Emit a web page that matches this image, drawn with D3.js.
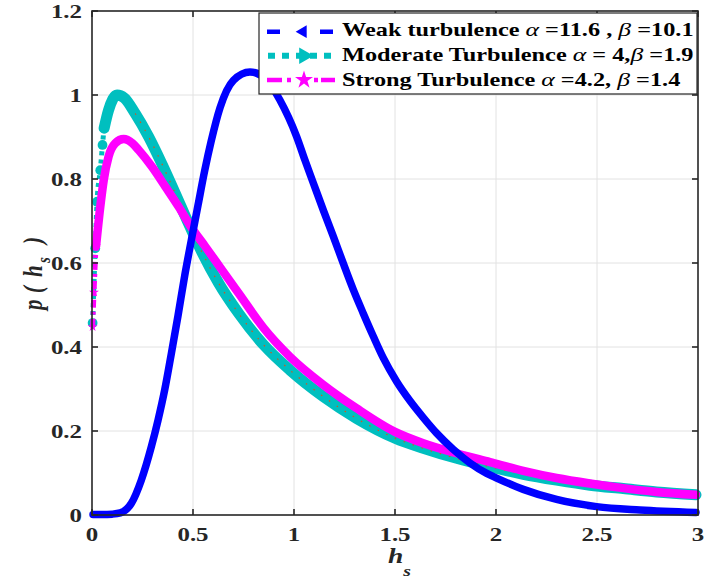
<!DOCTYPE html>
<html><head><meta charset="utf-8">
<script src="https://cdn.jsdelivr.net/npm/d3@7"></script>
<style>body{margin:0;background:#fff}svg{display:block}</style>
</head><body>
<svg id="c" width="704" height="584"></svg>
<script>
// ---- data ----
const xTicks = [0, 0.5, 1, 1.5, 2, 2.5, 3];
const xTickLabels = ["0", "0.5", "1", "1.5", "2", "2.5", "3"];
const yTicks = [0, 0.2, 0.4, 0.6, 0.8, 1, 1.2];
const yTickLabels = ["0", "0.2", "0.4", "0.6", "0.8", "1", "1.2"];

const weakX = [0.005,0.05,0.1,0.14,0.195,0.244,0.294,0.327,0.36,0.393,0.426,0.459,0.492,0.525,0.558,0.59,0.634,0.70,0.782,0.865,0.93,1.013,1.054,1.096,1.145,1.195,1.244,1.294,1.343,1.393,1.442,1.508,1.574,1.64,1.706,1.789,1.871,1.954,2.003,2.135,2.3,2.498,2.713,2.99];
const weakY = [0.001,0.001,0.002,0.005,0.028,0.083,0.163,0.226,0.298,0.385,0.475,0.57,0.655,0.738,0.82,0.89,0.97,1.035,1.055,1.036,0.988,0.901,0.845,0.79,0.726,0.663,0.599,0.536,0.48,0.425,0.374,0.318,0.272,0.232,0.195,0.156,0.124,0.099,0.088,0.061,0.037,0.02,0.012,0.006];

const modX = [0.003,0.016,0.025,0.041,0.052,0.06,0.082,0.124,0.16,0.214,0.28,0.347,0.413,0.478,0.545,0.627,0.726,0.85,0.98,1.145,1.31,1.5,1.64,1.805,1.97,2.135,2.3,2.465,2.63,2.795,2.99];
const modY = [0.457,0.635,0.746,0.821,0.881,0.921,0.964,1.0,0.993,0.956,0.901,0.835,0.765,0.694,0.625,0.552,0.48,0.405,0.345,0.282,0.23,0.183,0.159,0.135,0.115,0.097,0.083,0.071,0.063,0.055,0.048];

const strongX = [0.003,0.01,0.02,0.041,0.058,0.082,0.115,0.157,0.2,0.231,0.297,0.363,0.429,0.49,0.561,0.644,0.726,0.85,0.98,1.145,1.31,1.5,1.64,1.805,1.97,2.135,2.3,2.465,2.63,2.795,2.99];
const strongY = [0.448,0.53,0.64,0.734,0.797,0.853,0.885,0.895,0.885,0.869,0.829,0.782,0.734,0.686,0.639,0.583,0.528,0.445,0.377,0.31,0.254,0.198,0.171,0.147,0.126,0.105,0.088,0.075,0.064,0.055,0.048];

const seriesNames = ["Weak turbulence", "Moderate Turbulence", "Strong Turbulence"];
const alphaText = [" =11.6 , ", " = 4,", " =4.2, "];
const betaText = [" =10.1", " =1.9", " =1.4"];

// ---- drawing ----
const svg = d3.select("#c");
const L = 92, R = 698, T = 11, B = 515;
const SX = 1.31;   // horizontal stretch of the reference's text
const SXL = 1.35;  // legend text stretch
const x = d3.scaleLinear().domain([0, 3]).range([L, R]);
const y = d3.scaleLinear().domain([0, 1.2]).range([B, T]);
const serif = "Liberation Serif, Times New Roman, serif";
const ink = "#262626";

// grid
const g = svg.append("g");
g.selectAll(".gx").data(xTicks.slice(1, -1)).enter().append("line")
  .attr("x1", d => x(d)).attr("x2", d => x(d)).attr("y1", T).attr("y2", B)
  .attr("stroke", "#e2e2e2").attr("stroke-width", 1);
g.selectAll(".gy").data(yTicks.slice(1, -1)).enter().append("line")
  .attr("y1", d => y(d)).attr("y2", d => y(d)).attr("x1", L).attr("x2", R)
  .attr("stroke", "#e2e2e2").attr("stroke-width", 1);

// curves
const line = d3.line().x(d => x(d[0])).y(d => y(d[1])).curve(d3.curveMonotoneX);
svg.append("clipPath").attr("id", "clp").append("rect")
  .attr("x", L - 8).attr("y", T).attr("width", R - L + 16).attr("height", B - T + 8);
const plot = svg.append("g").attr("clip-path", "url(#clp)");

const series = [
  {xs: modX, ys: modY, color: "#00bfbf", w: 11, startN: 6, thinW: 5, dash: "4 4",
   sym: d3.symbolCircle, rot: 0, size: 75, orange: true},
  {xs: strongX, ys: strongY, color: "#ff00ff", w: 8.5, startN: 3, thinW: 5, dash: "8 4 3 4",
   sym: d3.symbolStar, rot: 0, size: 30},
  {xs: weakX, ys: weakY, color: "#0000ff", w: 7.5, startN: 0, thinW: 0, dash: null,
   sym: d3.symbolTriangle, rot: -90, size: 30}
];
series.forEach(s => {
  const pts = s.xs.map((v, i) => [v, s.ys[i]]);
  if (s.startN > 0) {
    const head = pts.slice(0, s.startN + 1);
    plot.append("path").attr("d", line(head)).attr("fill", "none")
      .attr("stroke", s.color).attr("stroke-width", s.thinW).attr("stroke-dasharray", s.dash);
    plot.selectAll(null).data(head.slice(0, s.startN)).enter().append("path")
      .attr("d", d3.symbol().type(s.sym).size(s.size))
      .attr("transform", d => `translate(${x(d[0])},${y(d[1])}) rotate(${s.rot})`)
      .attr("fill", s.color);
  }
  const body = pts.slice(Math.max(0, s.startN - 1));
  plot.append("path").attr("d", line(body)).attr("fill", "none")
    .attr("stroke", s.color).attr("stroke-width", s.w).attr("stroke-linejoin", "round").attr("stroke-linecap", "round");
  if (s.orange) {
    plot.append("path").attr("d", line(pts.slice(9))).attr("fill", "none")
      .attr("stroke", "#d95319").attr("stroke-width", 1.2).attr("stroke-dasharray", "1.5 8");
  }
});

// frame and ticks
const ax = svg.append("g").attr("stroke", ink).attr("stroke-width", 1.6);
ax.append("rect").attr("x", L).attr("y", T).attr("width", R - L).attr("height", B - T).attr("fill", "none");
xTicks.forEach(t => {
  ax.append("line").attr("x1", x(t)).attr("x2", x(t)).attr("y1", B).attr("y2", B - 6);
  ax.append("line").attr("x1", x(t)).attr("x2", x(t)).attr("y1", T).attr("y2", T + 6);
});
yTicks.forEach(t => {
  ax.append("line").attr("y1", y(t)).attr("y2", y(t)).attr("x1", L).attr("x2", L + 6);
  ax.append("line").attr("y1", y(t)).attr("y2", y(t)).attr("x1", R).attr("x2", R - 6);
});

// tick labels (stretched horizontally like the reference)
svg.selectAll(".xl").data(xTicks).enter().append("text")
  .attr("transform", d => `translate(${x(d)},541) scale(${SX},1)`).attr("text-anchor", "middle")
  .attr("font-family", serif).attr("font-weight", "bold").attr("font-size", 19).attr("fill", ink)
  .text((d, i) => xTickLabels[i]);
svg.selectAll(".yl").data(yTicks).enter().append("text")
  .attr("transform", d => `translate(82,${y(d) + 6.5}) scale(${SX},1)`).attr("text-anchor", "end")
  .attr("font-family", serif).attr("font-weight", "bold").attr("font-size", 19).attr("fill", ink)
  .text((d, i) => yTickLabels[i]);

// axis labels
const xl = svg.append("text").attr("transform", `translate(388,563) scale(${SX},1)`)
  .attr("font-family", serif).attr("font-weight", "bold").attr("font-style", "italic")
  .attr("font-size", 21).attr("fill", ink);
xl.append("tspan").text("h");
xl.append("tspan").attr("dy", 13).attr("font-size", 15).text("s");

const yl = svg.append("text").attr("transform", `translate(42,273) scale(${SX},1) rotate(-90)`)
  .attr("font-family", serif).attr("font-weight", "bold").attr("font-style", "italic")
  .attr("font-size", 21).attr("fill", ink);
yl.append("tspan").attr("x", -37).text("p");
yl.append("tspan").attr("x", -20).text("(");
yl.append("tspan").attr("x", -4).text("h");
yl.append("tspan").attr("x", 10).attr("dy", 6).attr("font-size", 15).text("s");
yl.append("tspan").attr("x", 29).attr("dy", -6).text(")");

// legend
const lg = svg.append("g");
lg.append("rect").attr("x", 259).attr("y", 13).attr("width", 438).attr("height", 81)
  .attr("fill", "#fff").attr("stroke", ink).attr("stroke-width", 1.2);
const rows = [31.7, 55.7, 80];
const sx1 = 267, sx2 = 335, smid = 303;
// weak sample
lg.append("line").attr("x1", sx1).attr("x2", sx2).attr("y1", rows[0]).attr("y2", rows[0])
  .attr("stroke", "#0000ff").attr("stroke-width", 4.5).attr("stroke-dasharray", "13 40");
lg.append("path").attr("d", d3.symbol().type(d3.symbolTriangle).size(70))
  .attr("transform", `translate(${smid},${rows[0]}) rotate(-90)`).attr("fill", "#0000ff");
// moderate sample
lg.append("line").attr("x1", sx1 + 1).attr("x2", sx2).attr("y1", rows[1]).attr("y2", rows[1])
  .attr("stroke", "#00bfbf").attr("stroke-width", 6).attr("stroke-dasharray", "7 7");
lg.append("path").attr("d", d3.symbol().type(d3.symbolTriangle).size(120))
  .attr("transform", `translate(${smid + 1},${rows[1]}) rotate(90)`).attr("fill", "#00bfbf");
// strong sample
lg.append("line").attr("x1", sx1).attr("x2", sx2).attr("y1", rows[2]).attr("y2", rows[2])
  .attr("stroke", "#ff00ff").attr("stroke-width", 4.5).attr("stroke-dasharray", "15 5 4 23 4 3 15");
lg.append("path").attr("d", d3.symbol().type(d3.symbolStar).size(100))
  .attr("transform", `translate(${smid + 1},${rows[2]})`).attr("fill", "#ff00ff");

const baselines = [36, 60.7, 86];
seriesNames.forEach((n, i) => {
  const t = lg.append("text").attr("transform", `translate(342,${baselines[i]}) scale(${SXL},1)`)
    .attr("font-family", serif).attr("font-weight", "bold").attr("font-size", 18).attr("fill", "#000");
  t.append("tspan").text(n + " ");
  t.append("tspan").attr("font-style", "italic").attr("font-weight", "normal").attr("font-size", 19).text("α");
  t.append("tspan").text(alphaText[i]);
  t.append("tspan").attr("font-style", "italic").attr("font-weight", "normal").attr("font-size", 19).text("β");
  t.append("tspan").text(betaText[i]);
});
</script>
</body></html>
